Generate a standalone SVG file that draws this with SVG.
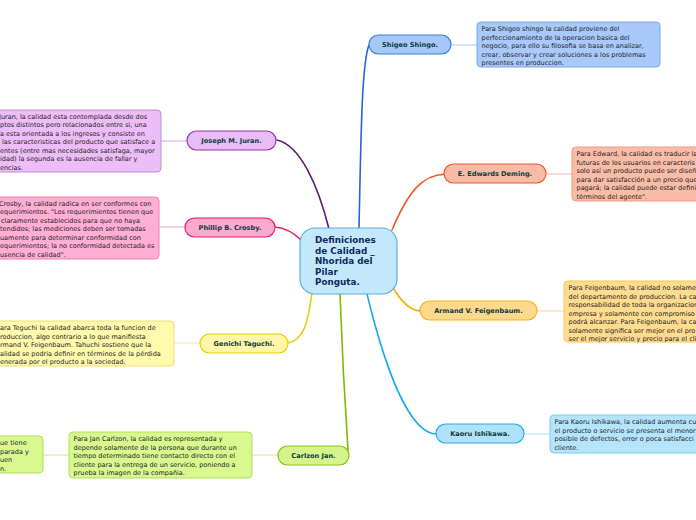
<svg xmlns="http://www.w3.org/2000/svg" width="696" height="520" viewBox="0 0 696 520">
<style>
.bg{fill:#ffffff}
.pill{stroke-width:1.2}
.box{stroke-width:1}
.lbl{font-family:"DejaVu Sans",Verdana,sans-serif;font-size:6.6px;font-weight:bold;fill:#0f3b40;text-anchor:middle}
.txt{font-family:"DejaVu Sans",Verdana,sans-serif;font-size:6.5px;fill:#262626}
.ctr{font-family:"DejaVu Sans",Verdana,sans-serif;font-size:8.8px;font-weight:bold;fill:#14285a}
.c{fill:none;stroke-width:1.6;stroke-linecap:round}
.l{fill:none;stroke-width:1}
</style>
<rect class="bg" x="0" y="0" width="696" height="520"/>
<g id="connectors">
<path class="c" stroke="#2466d2" d="M359,229 C361,130 362,62 369,45"/>
<path class="c" stroke="#5c1c72" d="M277,140 C300,145 318,185 329,229"/>
<path class="c" stroke="#e8206e" d="M275,227 C286,228 294,233 301,240"/>
<path class="c" stroke="#f05a28" d="M392,230 C408,192 422,175 445,174"/>
<path class="c" stroke="#f5b000" d="M392,286 C400,300 410,311 421,311"/>
<path class="c" stroke="#e8cc10" d="M312,293 C308,322 304,340 288,343"/>
<path class="c" stroke="#80b800" d="M340,294 C342,350 346,420 348,450"/>
<path class="c" stroke="#1aa8f0" d="M367,294 C386,372 410,434 437,434"/>
<path class="l" stroke="#a9c9f8" d="M451,45 H477"/>
<path class="l" stroke="#d7a8e6" d="M161,141 H187"/>
<path class="l" stroke="#f7a6c8" d="M159,227 H185"/>
<path class="l" stroke="#f3e58a" d="M174,343 H200"/>
<path class="l" stroke="#cde98c" d="M252,455 H278"/>
<path class="l" stroke="#cde98c" d="M43,455 H69"/>
<path class="l" stroke="#f7b6a0" d="M546,174 H572"/>
<path class="l" stroke="#fbd590" d="M537,311 H564"/>
<path class="l" stroke="#a8dcf6" d="M524,434 H550"/>
</g>
<g id="center">
<rect x="300" y="228" width="97" height="66" rx="15" fill="#c3e8fb" stroke="#5aaee6" stroke-width="1.2"/>
<text class="ctr" x="315" y="243">Definiciones</text>
<text class="ctr" x="315" y="253.5">de Calidad _</text>
<text class="ctr" x="315" y="264">Nhorida del</text>
<text class="ctr" x="315" y="274.5">Pilar</text>
<text class="ctr" x="315" y="285">Ponguta.</text>
</g>
<g id="shigeo">
<rect class="pill" x="369" y="35" width="82" height="19" rx="9.5" fill="#a6c8f8" stroke="#3d7fd9"/>
<text class="lbl" x="410" y="47.3">Shigeo Shingo.</text>
</g>
<g id="shigeo-note">
<rect class="box" x="477" y="22" width="183" height="45" rx="4" fill="#a8c9fa" stroke="#78a8f0"/>
<text class="txt" x="481.5" y="31">Para Shigeo shingo la calidad proviene del</text>
<text class="txt" x="481.5" y="39.5">perfeccionamiento de la operacion basica del</text>
<text class="txt" x="481.5" y="48">negocio, para ello su filosofia se basa en analizar,</text>
<text class="txt" x="481.5" y="56.5">crear, observar y crear soluciones a los problemas</text>
<text class="txt" x="481.5" y="65">presentes en produccion.</text>
</g>
<g id="juran">
<rect class="pill" x="187" y="131" width="89" height="19" rx="9.5" fill="#e8bcf4" stroke="#8b3fa8"/>
<text class="lbl" x="231.5" y="143.3">Joseph M. Juran.</text>
</g>
<g id="juran-note">
<rect class="box" x="-20" y="110" width="181" height="62" rx="4" fill="#edbdf7" stroke="#c48ad8"/>
<text class="txt" x="-1" y="118.5">Juran, la calidad esta contemplada desde dos</text>
<text class="txt" x="0" y="127">ptos distintos pero relacionados entre si, una</text>
<text class="txt" x="0" y="135.5">a esta orientada a los ingresos y consiste en</text>
<text class="txt" x="2" y="144">las caracteristicas del producto que satisface a</text>
<text class="txt" x="0" y="152.5">entes (entre mas necesidades satisfaga, mayor</text>
<text class="txt" x="0" y="161">idad) la segunda es la ausencia de fallar y</text>
<text class="txt" x="0" y="169.5">encias.</text>
</g>
<g id="crosby">
<rect class="pill" x="185" y="218" width="90" height="19" rx="9.5" fill="#fda8cf" stroke="#e6186e"/>
<text class="lbl" x="230" y="230.3">Phillip B. Crosby.</text>
</g>
<g id="crosby-note">
<rect class="box" x="-20" y="197" width="179" height="62" rx="4" fill="#ffaed4" stroke="#f07cb0"/>
<text class="txt" x="-1" y="205.5">Crosby, la calidad radica en ser conformes con</text>
<text class="txt" x="0" y="214">equerimientos. "Los requerimientos tienen que</text>
<text class="txt" x="1" y="222.5">claramente establecidos para que no haya</text>
<text class="txt" x="0" y="231">tendidos; las mediciones deben ser tomadas</text>
<text class="txt" x="0" y="239.5">uamente para determinar conformidad con</text>
<text class="txt" x="0" y="248">equerimientos; la no conformidad detectada es</text>
<text class="txt" x="0" y="256.5">usencia de calidad".</text>
</g>
<g id="taguchi">
<rect class="pill" x="200" y="334" width="88" height="19" rx="9.5" fill="#fff6a8" stroke="#e8cf00"/>
<text class="lbl" x="244" y="346.3">Genichi Taguchi.</text>
</g>
<g id="taguchi-note">
<rect class="box" x="-20" y="321" width="194" height="45" rx="4" fill="#fffaac" stroke="#efe070"/>
<text class="txt" x="0" y="330">ara Teguchi la calidad abarca toda la funcion de</text>
<text class="txt" x="0" y="338.5">roduccion, algo contrario a lo que manifiesta</text>
<text class="txt" x="0" y="347">rmand V. Feigenbaum. Tahuchi sostiene que la</text>
<text class="txt" x="0" y="355.5">alidad se podria definir en términos de la pérdida</text>
<text class="txt" x="0" y="364">enerada por el producto a la sociedad.</text>
</g>
<g id="carlzon">
<rect class="pill" x="278" y="446" width="71" height="19" rx="9.5" fill="#d6f48c" stroke="#8cc21e"/>
<text class="lbl" x="313.5" y="458.3">Carlzon Jan.</text>
</g>
<g id="carlzon-note">
<rect class="box" x="69" y="432" width="183" height="46" rx="4" fill="#d9f890" stroke="#b2df5a"/>
<text class="txt" x="73.5" y="441">Para Jan Carlzon, la calidad es representada y</text>
<text class="txt" x="73.5" y="449.5">depende solamente de la persona que durante un</text>
<text class="txt" x="73.5" y="458">tiempo determinado tiene contacto directo con el</text>
<text class="txt" x="73.5" y="466.5">cliente para la entrega de un servicio, poniendo a</text>
<text class="txt" x="73.5" y="475">prueba la imagen de la compañia.</text>
</g>
<g id="extra-note">
<rect class="box" x="-20" y="436" width="63" height="37" rx="4" fill="#d9f890" stroke="#b2df5a"/>
<text class="txt" x="0" y="445">ue tiene</text>
<text class="txt" x="0" y="453.5">parada y</text>
<text class="txt" x="0" y="462">uen</text>
<text class="txt" x="0" y="470.5">n.</text>
</g>
<g id="deming">
<rect class="pill" x="444" y="164" width="102" height="19" rx="9.5" fill="#f8bba6" stroke="#ef5a2e"/>
<text class="lbl" x="495" y="176.3">E. Edwards Deming.</text>
</g>
<g id="deming-note">
<rect class="box" x="572" y="147" width="140" height="54" rx="4" fill="#f9bca7" stroke="#f49a7c"/>
<text class="txt" x="576.5" y="156">Para Edward, la calidad es traducir la</text>
<text class="txt" x="576.5" y="164.5">futuras de los usuarios en caracteris</text>
<text class="txt" x="576.5" y="173">solo así un producto puede ser diseñ</text>
<text class="txt" x="576.5" y="181.5">para dar satisfacción a un precio que</text>
<text class="txt" x="576.5" y="190">pagará; la calidad puede estar defini</text>
<text class="txt" x="576.5" y="198.5">términos del agente".</text>
</g>
<g id="feigenbaum">
<rect class="pill" x="420" y="301" width="117" height="19" rx="9.5" fill="#fed98c" stroke="#f5b422"/>
<text class="lbl" x="478.5" y="313.3">Armand V. Feigenbaum.</text>
</g>
<g id="feigenbaum-note">
<rect class="box" x="564" y="281" width="150" height="61" rx="4" fill="#fedb8e" stroke="#f5c85a"/>
<text class="txt" x="568.5" y="290">Para Feigenbaum, la calidad no solame</text>
<text class="txt" x="568.5" y="298.5">del departamento de produccion. La ca</text>
<text class="txt" x="568.5" y="307">responsabilidad de toda la organizacion</text>
<text class="txt" x="568.5" y="315.5">empresa y solamente con compromiso</text>
<text class="txt" x="568.5" y="324">podrá alcanzar. Para Feigenbaum, la ca</text>
<text class="txt" x="568.5" y="332.5">solamente significa ser mejor en el pro</text>
<text class="txt" x="568.5" y="341">ser el mejor servicio y precio para el cli</text>
</g>
<g id="ishikawa">
<rect class="pill" x="436" y="424" width="88" height="19" rx="9.5" fill="#b0e2fb" stroke="#2aaae8"/>
<text class="lbl" x="480" y="436.3">Kaoru Ishikawa.</text>
</g>
<g id="ishikawa-note">
<rect class="box" x="550" y="415" width="160" height="38" rx="4" fill="#b5e5fc" stroke="#7acdf2"/>
<text class="txt" x="554.5" y="424">Para Kaoru Ishikawa, la calidad aumenta cu</text>
<text class="txt" x="554.5" y="432.5">el producto o servicio se presenta el menor</text>
<text class="txt" x="554.5" y="441">posible de defectos, error o poca satisfacci</text>
<text class="txt" x="554.5" y="449.5">cliente.</text>
</g>
</svg>
